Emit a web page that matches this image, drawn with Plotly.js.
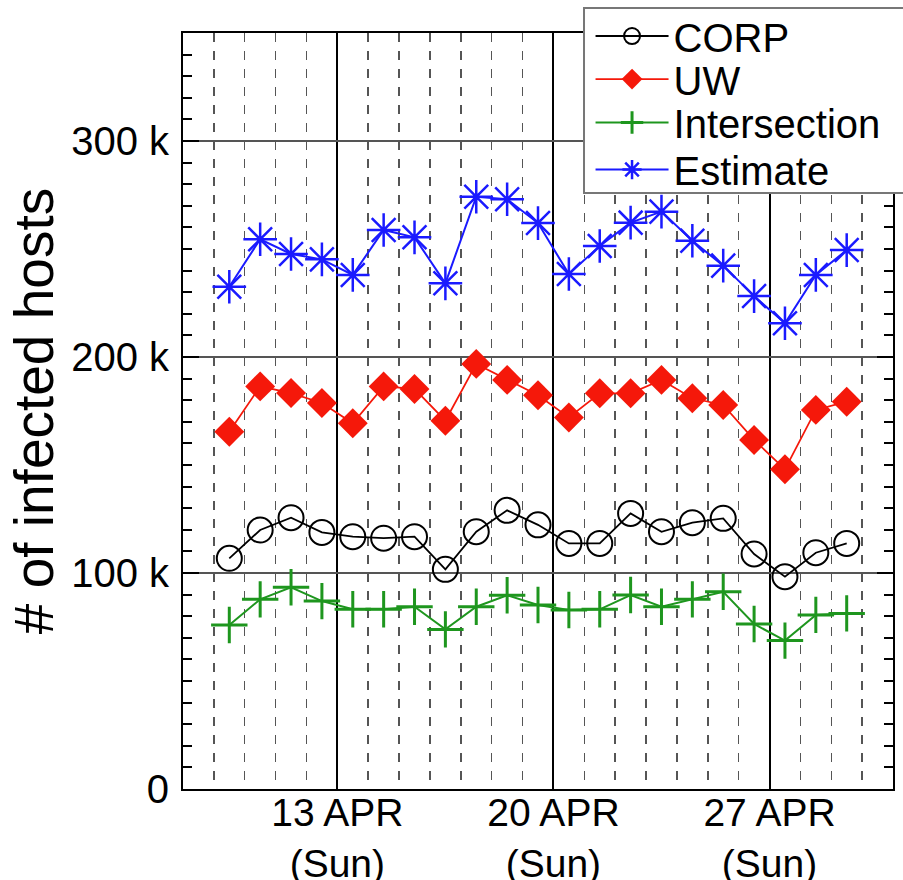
<!DOCTYPE html>
<html>
<head>
<meta charset="utf-8">
<script src="https://cdn.plot.ly/plotly-3.0.1.min.js"></script>
<style>html,body{margin:0;padding:0;background:#fff;}#chart{width:903px;height:880px;}</style>
</head>
<body>
<div id="chart"></div>
<script>
// Days (noon of each day), April 2008
var days = ['2008-04-09 12:00','2008-04-10 12:00','2008-04-11 12:00','2008-04-12 12:00','2008-04-13 12:00',
  '2008-04-14 12:00','2008-04-15 12:00','2008-04-16 12:00','2008-04-17 12:00','2008-04-18 12:00',
  '2008-04-19 12:00','2008-04-20 12:00','2008-04-21 12:00','2008-04-22 12:00','2008-04-23 12:00',
  '2008-04-24 12:00','2008-04-25 12:00','2008-04-26 12:00','2008-04-27 12:00','2008-04-28 12:00','2008-04-29 12:00'];

var corp = [106800,119900,125600,118800,116800,116100,116800,101700,119100,129000,122300,113700,113700,127600,119100,123300,125300,108800,98300,109400,113700];
var uw = [165400,186400,183300,178700,169300,186400,185200,170500,196800,189400,182300,172000,183200,183200,189400,180900,177800,161600,148000,175500,179300];
var intersection = [75900,87800,93400,87000,83200,83200,84400,73900,84400,89700,85200,82900,83200,89800,84400,87800,91300,76400,68700,80600,81300];
var estimate = [232500,254500,247700,245200,238000,258800,255400,234100,274200,273000,262000,238400,251400,262200,267300,253800,242300,228200,215600,238000,249500];

var seriesNames = ['CORP','UW','Intersection','Estimate'];
var xTickVals = ['2008-04-13','2008-04-20','2008-04-27'];
var xTickText = ['13 APR<br>(Sun)','20 APR<br>(Sun)','27 APR<br>(Sun)'];
var yTickVals = [0,100000,200000,300000];
var yTickText = ['0','100 k','200 k','300 k'];

var FONT = 'Liberation Sans, Arial, Helvetica, sans-serif';

var traces = [
  {x: days, y: corp, name: seriesNames[0], mode: 'lines+markers', legend: 'legend',
   line: {color: '#000000', width: 1.8},
   marker: {symbol: 'circle-open', size: 25, color: '#000000', line: {width: 2, color: '#000000'}}},
  {x: days, y: uw, name: seriesNames[1], mode: 'lines+markers', legend: 'legend2',
   line: {color: '#f5180a', width: 1.8},
   marker: {symbol: 'diamond', size: 23, color: '#f5180a', line: {width: 0}}},
  {x: days, y: intersection, name: seriesNames[2], mode: 'lines+markers', legend: 'legend3',
   line: {color: '#1e961e', width: 2},
   marker: {symbol: 'cross-thin-open', size: 26, color: '#1e961e', line: {width: 3, color: '#1e961e'}}},
  {x: days, y: estimate, name: seriesNames[3], mode: 'lines+markers', legend: 'legend4',
   line: {color: '#1a1aff', width: 2},
   marker: {symbol: 'asterisk-open', size: 28, color: '#1a1aff', line: {width: 2.5, color: '#1a1aff'}}}
];

function leg(ypaper) {
  return {x: 0.5740, y: ypaper, xanchor: 'left', yanchor: 'middle', bgcolor: 'rgba(0,0,0,0)',
          borderwidth: 0, itemwidth: 73, font: {family: FONT, size: 40, color: '#000'}, itemsizing: 'trace'};
}

var layout = {
  width: 903, height: 880,
  margin: {l: 183, r: 10, t: 33, b: 91, autoexpand: false},
  paper_bgcolor: '#ffffff', plot_bgcolor: '#ffffff',
  font: {family: FONT, size: 40, color: '#000'},
  showlegend: true,
  legend: leg(0.9960), legend2: leg(0.939), legend3: leg(0.8816), legend4: leg(0.8194),
  xaxis: {
    type: 'date', range: ['2008-04-08', '2008-05-01'],
    tickmode: 'array', tickvals: xTickVals, ticktext: xTickText,
    ticks: '', showline: true, linecolor: '#000', linewidth: 2, mirror: true,
    showgrid: true, gridcolor: '#000', gridwidth: 2,
    tickfont: {family: FONT, size: 39, color: '#000'},
    ticklabelstandoff: -12,
    minor: {tickmode: 'linear', tick0: '2008-04-08', dtick: 86400000, showgrid: true,
            gridcolor: '#555', gridwidth: 1.5, griddash: 'dash', ticks: ''},
    zeroline: false, fixedrange: true
  },
  yaxis: {
    range: [0, 350000],
    tickmode: 'array', tickvals: yTickVals, ticktext: yTickText,
    ticks: 'inside', ticklen: 16, tickwidth: 2, tickcolor: '#000',
    showline: true, linecolor: '#000', linewidth: 2, mirror: 'ticks',
    showgrid: true, gridcolor: '#555', gridwidth: 1.5,
    tickfont: {family: FONT, size: 40, color: '#000'},
    ticklabelstandoff: 4,
    minor: {tickmode: 'linear', tick0: 0, dtick: 10000, ticks: 'inside', ticklen: 9,
            tickwidth: 2, tickcolor: '#000', showgrid: false},
    title: {text: '# of infected hosts', font: {family: FONT, size: 55, color: '#000'}, standoff: 0},
    automargin: false, zeroline: false, fixedrange: true
  },
  shapes: [{type: 'rect', xref: 'paper', yref: 'paper', x0: 0.5648, x1: 1.03, y0: 0.7884, y1: 1.0331,
            layer: 'above', fillcolor: '#ffffff', line: {color: '#777', width: 2}}]
};

Plotly.newPlot('chart', traces, layout, {staticPlot: true, displayModeBar: false});
</script>
</body>
</html>
